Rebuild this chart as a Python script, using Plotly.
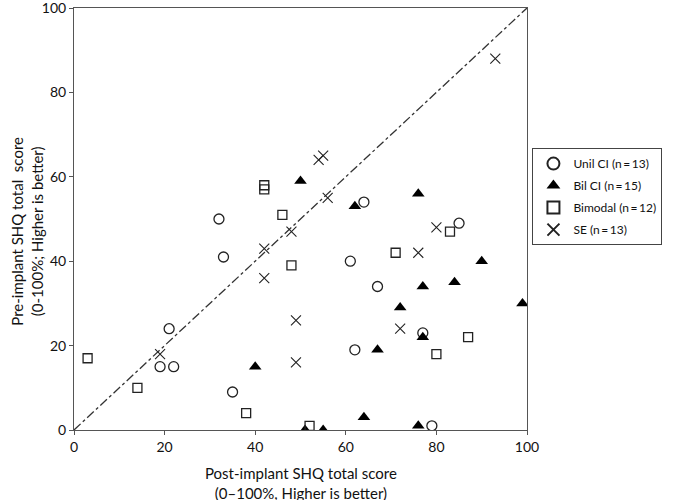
import plotly.graph_objects as go

# Unil CI
unil_x = [32, 33, 21, 19, 22, 35, 64, 61, 67, 62, 85, 77, 79]
unil_y = [50, 41, 24, 15, 15, 9, 54, 40, 34, 19, 49, 23, 1]

# Bil CI
bil_x = [50, 62, 40, 67, 64, 51, 55, 76, 90, 84, 77, 72, 99, 77, 76]
bil_y = [59, 53, 15, 19, 3, 0, 0, 56, 40, 35, 34, 29, 30, 22, 1]

# Bimodal
bim_x = [3, 14, 42, 42, 46, 48, 38, 52, 83, 71, 87, 80]
bim_y = [17, 10, 58, 57, 51, 39, 4, 1, 47, 42, 22, 18]

# SE
se_x = [19, 54, 55, 56, 48, 42, 42, 49, 49, 80, 76, 72, 93]
se_y = [18, 64, 65, 55, 47, 43, 36, 26, 16, 48, 42, 24, 88]

ref_line = [0, 100]
tick_vals = [0, 20, 40, 60, 80, 100]

x_title = 'Post-implant SHQ total score<br>(0\u2013100%, Higher is better)'
y_title = 'Pre-implant SHQ total  score<br>(0-100%; Higher is better)'

ink = '#222222'
fig = go.Figure()

fig.add_trace(go.Scatter(
    x=ref_line, y=ref_line, mode='lines', showlegend=False, hoverinfo='skip',
    line=dict(color='#333333', width=1.3, dash='dashdot')
))

fig.add_trace(go.Scatter(
    x=unil_x, y=unil_y, mode='markers', name='Unil CI (n\u2009=\u200913)', legendgroup='a',
    marker=dict(symbol='circle-open', size=10, color=ink, line=dict(width=1.3, color=ink))
))
fig.add_trace(go.Scatter(
    x=bil_x, y=bil_y, mode='markers', name='Bil CI (n\u2009=\u200915)', legendgroup='b',
    marker=dict(symbol='triangle-up', size=11, color='black', line=dict(width=0))
))
fig.add_trace(go.Scatter(
    x=bim_x, y=bim_y, mode='markers', name='Bimodal (n\u2009=\u200912)', legendgroup='c',
    marker=dict(symbol='square-open', size=9, color=ink, line=dict(width=1.3, color=ink))
))
fig.add_trace(go.Scatter(
    x=se_x, y=se_y, mode='markers', name='SE (n\u2009=\u200913)', legendgroup='d',
    marker=dict(symbol='x-thin-open', size=10, color=ink, line=dict(width=1.1, color=ink))
))

fig.update_layout(
    width=674, height=500,
    paper_bgcolor='white',
    plot_bgcolor='white',
    font=dict(family='Lato, Open Sans, sans-serif', color='#111111', size=14),
    margin=dict(l=74, r=147, t=8, b=70),
    legend=dict(
        x=1.012, y=0.668, xanchor='left', yanchor='top',
        bordercolor='#444444', borderwidth=1,
        font=dict(size=12), tracegroupgap=3,
        itemwidth=30, itemsizing='constant'
    ),
    annotations=[
        dict(text=x_title, xref='paper', yref='paper', x=0.5, y=0,
             xanchor='center', yanchor='top', yshift=-32, showarrow=False,
             font=dict(size=15)),
        dict(text=y_title, xref='paper', yref='paper', x=0, y=0.47,
             xanchor='center', yanchor='middle', xshift=-47, textangle=-90,
             showarrow=False, font=dict(size=15)),
    ]
)

fig.update_xaxes(
    range=[0, 100], tickvals=tick_vals,
    showgrid=False, zeroline=False, automargin=False,
    showline=True, linecolor='#555555', linewidth=1, mirror=True,
    ticks='outside', ticklen=4, tickcolor='#555555',
    ticklabeloverflow='allow'
)

fig.update_yaxes(
    range=[0, 100], tickvals=tick_vals,
    showgrid=False, zeroline=False, automargin=False,
    showline=True, linecolor='#555555', linewidth=1, mirror=True,
    ticks='outside', ticklen=4, tickcolor='#555555',
    ticklabeloverflow='allow'
)

# drop the default 8px page margin so the figure fills the window
fig.write_html("out.html", config={'displayModeBar': False},
               post_script="document.body.style.margin='0';")
